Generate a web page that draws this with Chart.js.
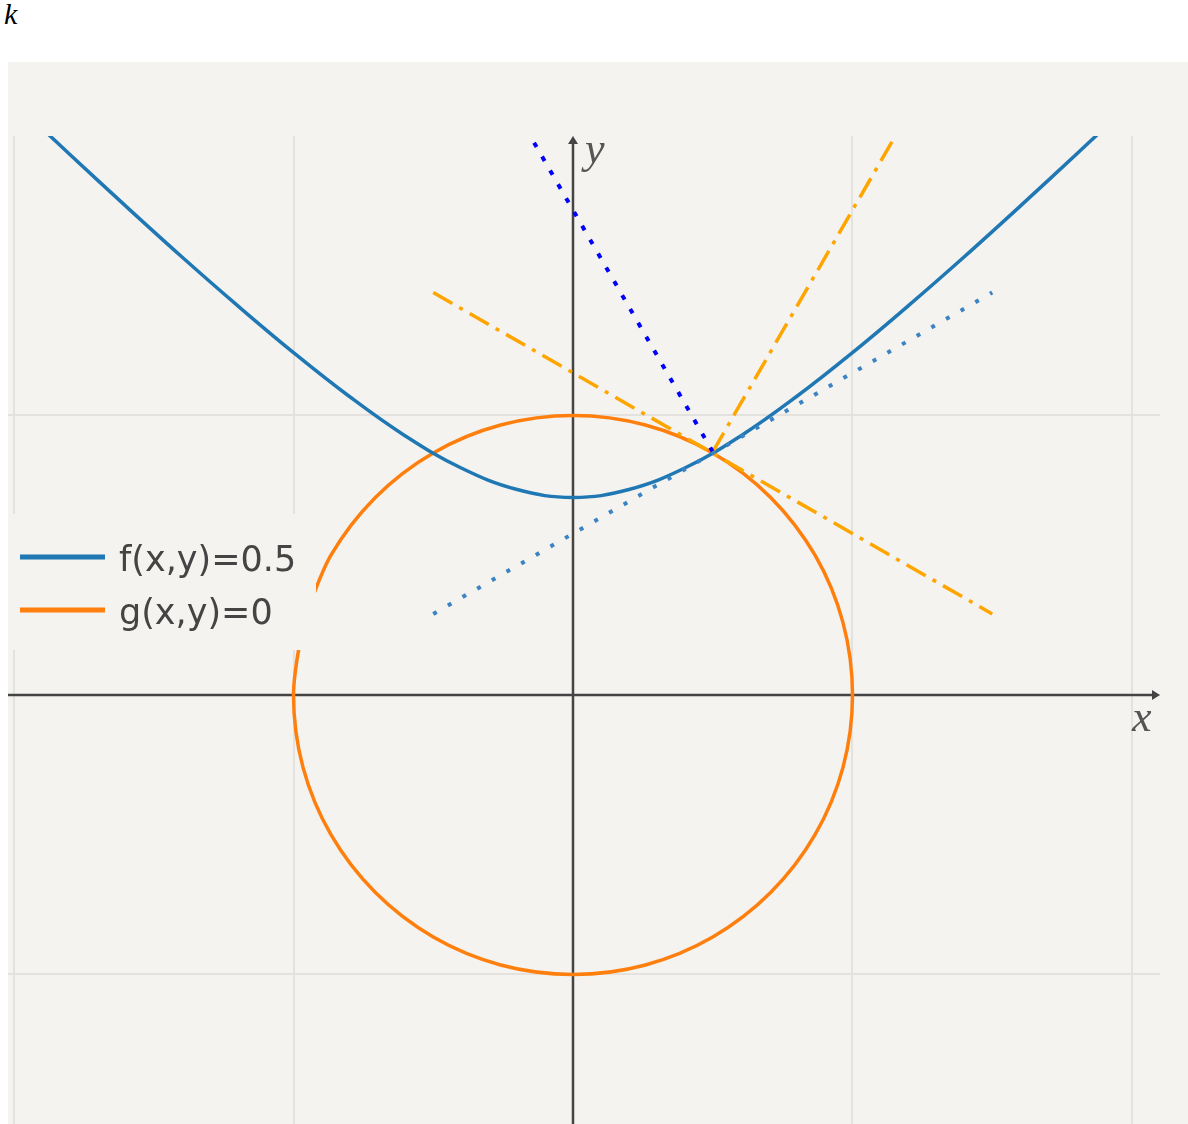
<!DOCTYPE html>
<html>
<head>
<meta charset="utf-8">
<script src="https://cdn.jsdelivr.net/npm/chart.js@4.4.1/dist/chart.umd.min.js"></script>
<style>
  body{margin:0;background:#fff;width:1188px;height:1124px;overflow:hidden;position:relative;}
  #title{position:absolute;left:4px;top:-3px;font:italic 30px "Liberation Serif",serif;line-height:34px;color:#000;}
  #wrap{position:absolute;left:8px;top:62px;width:1180px;height:1062px;background:#f4f3ef;}
</style>
</head>
<body>
<div id="title">k</div>
<div id="wrap"><canvas id="plot" width="1180" height="1062"></canvas></div>
<script>
// level curve f(x,y)=0.5 (upper branch)
const HYP_X = [-2.0,-1.8,-1.6,-1.4,-1.2,-1.0,-0.8,-0.6,-0.4,-0.2,0,0.2,0.4,0.6,0.8,1.0,1.2,1.4,1.6,1.8,2.0];
const HYP_Y = [2.121,1.934,1.749,1.568,1.393,1.225,1.068,0.927,0.812,0.735,0.707,0.735,0.812,0.927,1.068,1.225,1.393,1.568,1.749,1.934,2.121];
// constraint g(x,y)=0, unit circle; starts and ends behind the legend box
const CIRC_X = [-0.966,-1,-0.966,-0.866,-0.707,-0.5,-0.259,0,0.259,0.5,0.707,0.866,0.966,1,0.966,0.866,0.707,0.5,0.259,0,-0.259,-0.5,-0.707,-0.866,-0.966];
const CIRC_Y = [0.259,0,-0.259,-0.5,-0.707,-0.866,-0.966,-1,-0.966,-0.866,-0.707,-0.5,-0.259,0,0.259,0.5,0.707,0.866,0.966,1,0.966,0.866,0.707,0.5,0.259];
// tangents and gradients at the touching point (0.5, 0.87)
const TAN_F_X = [-0.5,1.5],  TAN_F_Y = [0.29,1.44];
const TAN_G_X = [-0.5,1.5],  TAN_G_Y = [1.44,0.29];
const GRAD_F_X = [0.5,-0.5], GRAD_F_Y = [0.87,2.6];
const GRAD_G_X = [0.5,1.5],  GRAD_G_Y = [0.87,2.6];
const X_TICKS = [-2,-1,0,1,2];
const Y_TICKS = [-1,0,1];
const LABELS = ['f(x,y)=0.5','g(x,y)=0'];

const BG = '#f4f3ef';
const zip = (xs,ys)=>xs.map((x,i)=>({x, y:ys[i]}));

const axesPlugin = {
  id:'axes',
  beforeDatasetsDraw(chart){
    const {ctx, chartArea:a, scales:{x,y}} = chart;
    const x0 = x.getPixelForValue(0), y0 = y.getPixelForValue(0);
    ctx.save();
    ctx.strokeStyle = ctx.fillStyle = '#444';
    ctx.lineWidth = 2.5;
    ctx.beginPath();
    ctx.moveTo(a.left, y0); ctx.lineTo(a.right-6, y0);
    ctx.moveTo(x0, a.bottom); ctx.lineTo(x0, a.top+6);
    ctx.stroke();
    ctx.beginPath();
    ctx.moveTo(a.right, y0); ctx.lineTo(a.right-8, y0-5); ctx.lineTo(a.right-8, y0+5); ctx.closePath();
    ctx.moveTo(x0, a.top); ctx.lineTo(x0-5, a.top+8); ctx.lineTo(x0+5, a.top+8); ctx.closePath();
    ctx.fill();
    ctx.font = 'italic 44px "Liberation Serif"';
    ctx.fillStyle = '#555';
    ctx.fillText('y', x0+12, a.top+27);
    ctx.fillText('x', a.right-28, y0+36);
    ctx.restore();
  }
};

const legendPlugin = {
  id:'boxLegend',
  afterDraw(chart){
    const ctx = chart.ctx;
    ctx.save();
    ctx.fillStyle = BG;
    ctx.fillRect(0, 452, 308, 136);
    chart.data.datasets.filter(d=>d.label).forEach((d,i)=>{
      const ly = 495 + i*53;
      ctx.strokeStyle = d.borderColor;
      ctx.lineWidth = 5;
      ctx.beginPath(); ctx.moveTo(12, ly); ctx.lineTo(97, ly); ctx.stroke();
      ctx.fillStyle = '#444';
      ctx.font = '35px "DejaVu Sans"';
      ctx.fillText(d.label, 111, ly+14);
    });
    ctx.restore();
  }
};

const line = (data, color, width, dash, order, label)=>({
  label, data, showLine:true, borderColor:color, borderWidth:width,
  borderDash:dash || [], order, pointRadius:0, fill:false
});

new Chart(document.getElementById('plot'), {
  type:'scatter',
  data:{
    datasets:[
      {...line(zip(HYP_X,HYP_Y), '#1f77b4', 3.5, null, 2, LABELS[0]), tension:0.4},
      {...line(zip(CIRC_X,CIRC_Y), '#ff7f0e', 3.5, null, 2, LABELS[1]), tension:0.33},
      line(zip(TAN_F_X,TAN_F_Y), '#3b83c4', 4, [4,12.9], 1),
      line(zip(TAN_G_X,TAN_G_Y), '#ffa500', 3.5, [22,8,4,8], 1),
      line(zip(GRAD_F_X,GRAD_F_Y), '#0000ff', 4, [5,11], 1),
      line(zip(GRAD_G_X,GRAD_G_Y), '#ffa500', 3.5, [22,8,4,8], 1)
    ]
  },
  options:{
    responsive:false,
    animation:false,
    layout:{padding:{left:0,top:74,right:28,bottom:0}},
    elements:{line:{capBezierPoints:false}},
    plugins:{legend:{display:false},tooltip:{enabled:false}},
    scales:{
      x:{
        type:'linear', min:-2.0215, max:2.1002,
        ticks:{display:false}, border:{display:false},
        grid:{color:'#e4e2de', lineWidth:2, drawTicks:false},
        afterBuildTicks:(s)=>{ s.ticks = X_TICKS.map(v=>({value:v})); },
        afterFit:(s)=>{ s.height = 0; }
      },
      y:{
        type:'linear', min:-1.5349, max:2.0,
        ticks:{display:false}, border:{display:false},
        grid:{color:'#e4e2de', lineWidth:2, drawTicks:false},
        afterBuildTicks:(s)=>{ s.ticks = Y_TICKS.map(v=>({value:v})); },
        afterFit:(s)=>{ s.width = 0; }
      }
    }
  },
  plugins:[axesPlugin, legendPlugin]
});
</script>
</body>
</html>
